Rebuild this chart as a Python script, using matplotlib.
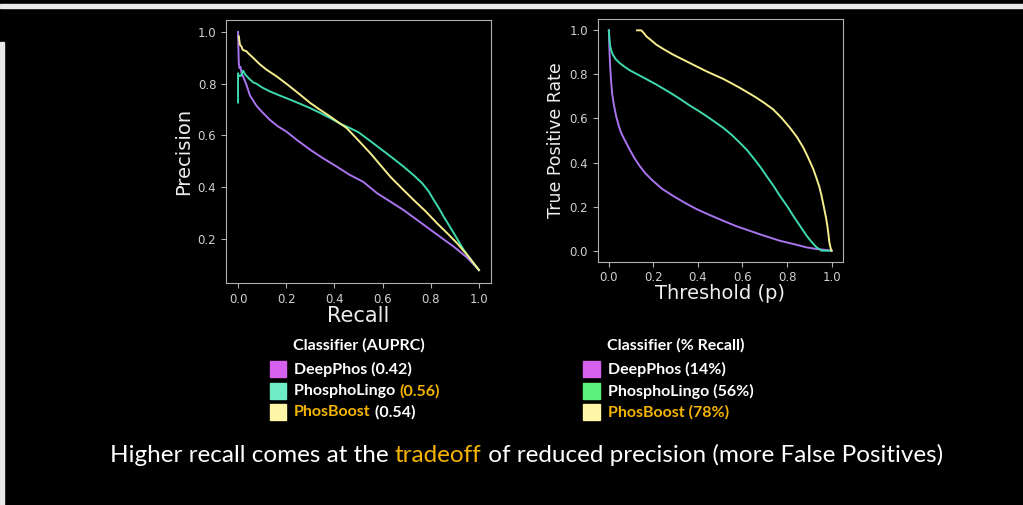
import matplotlib
matplotlib.use("Agg")
import matplotlib.pyplot as plt
from matplotlib.patches import Rectangle

# precision-recall curves (recall, precision)
pr_deep_recall = [0.0, 0.003, 0.006, 0.01, 0.015, 0.02, 0.035, 0.049, 0.076, 0.10, 0.132, 0.165, 0.20, 0.25, 0.30, 0.35, 0.41, 0.46, 0.52, 0.576, 0.63, 0.687, 0.74, 0.80, 0.85, 0.896, 0.95, 1.0]
pr_deep_prec = [1.0, 0.88, 0.86, 0.865, 0.84, 0.83, 0.795, 0.755, 0.715, 0.69, 0.66, 0.635, 0.615, 0.578, 0.544, 0.513, 0.479, 0.449, 0.42, 0.377, 0.345, 0.311, 0.275, 0.234, 0.20, 0.169, 0.128, 0.079]

pr_lingo_recall = [0.0, 0.0, 0.002, 0.004, 0.012, 0.021, 0.03, 0.045, 0.0625, 0.076, 0.10, 0.132, 0.165, 0.20, 0.25, 0.30, 0.34, 0.382, 0.42, 0.451, 0.50, 0.549, 0.597, 0.645, 0.687, 0.73, 0.764, 0.79, 0.8125, 0.834, 0.854, 0.875, 0.896, 0.917, 0.9375, 0.97, 1.0]
pr_lingo_prec = [0.727, 0.84, 0.83, 0.83, 0.83, 0.85, 0.835, 0.82, 0.805, 0.80, 0.785, 0.77, 0.757, 0.744, 0.725, 0.705, 0.687, 0.667, 0.647, 0.634, 0.612, 0.578, 0.544, 0.51, 0.479, 0.445, 0.415, 0.385, 0.35, 0.318, 0.285, 0.253, 0.221, 0.188, 0.156, 0.115, 0.079]

pr_boost_recall = [0.003, 0.008, 0.014, 0.02, 0.035, 0.045, 0.0625, 0.09, 0.118, 0.16, 0.20, 0.25, 0.30, 0.34, 0.382, 0.42, 0.451, 0.50, 0.549, 0.59, 0.632, 0.68, 0.729, 0.78, 0.826, 0.87, 0.91, 0.955, 1.0]
pr_boost_prec = [0.983, 0.95, 0.944, 0.93, 0.925, 0.915, 0.90, 0.875, 0.854, 0.828, 0.80, 0.763, 0.725, 0.699, 0.673, 0.648, 0.628, 0.58, 0.531, 0.486, 0.44, 0.395, 0.35, 0.305, 0.26, 0.22, 0.182, 0.133, 0.079]

# true positive rate vs threshold
tpr_deep_thr = [0.0, 0.002, 0.006, 0.01, 0.015, 0.022, 0.033, 0.045, 0.055, 0.075, 0.093, 0.115, 0.138, 0.165, 0.198, 0.24, 0.288, 0.34, 0.393, 0.45, 0.513, 0.57, 0.633, 0.70, 0.768, 0.83, 0.888, 0.93, 0.977, 1.0]
tpr_deep_val = [1.0, 0.93, 0.834, 0.77, 0.713, 0.665, 0.61, 0.565, 0.535, 0.495, 0.46, 0.42, 0.385, 0.35, 0.317, 0.28, 0.249, 0.218, 0.189, 0.163, 0.136, 0.112, 0.09, 0.067, 0.045, 0.03, 0.015, 0.008, 0.003, 0.0]

tpr_lingo_thr = [0.0, 0.003, 0.006, 0.012, 0.018, 0.03, 0.048, 0.07, 0.093, 0.138, 0.175, 0.213, 0.25, 0.288, 0.325, 0.363, 0.40, 0.438, 0.475, 0.513, 0.55, 0.588, 0.62, 0.648, 0.68, 0.708, 0.74, 0.768, 0.80, 0.828, 0.86, 0.888, 0.91, 0.933, 0.955, 1.0]
tpr_lingo_val = [1.0, 0.96, 0.928, 0.905, 0.89, 0.87, 0.852, 0.835, 0.819, 0.795, 0.775, 0.754, 0.732, 0.709, 0.685, 0.659, 0.636, 0.611, 0.585, 0.558, 0.527, 0.49, 0.457, 0.422, 0.38, 0.339, 0.293, 0.249, 0.203, 0.158, 0.11, 0.068, 0.04, 0.015, 0.0, 0.0]

tpr_boost_thr = [0.127, 0.145, 0.155, 0.168, 0.19, 0.213, 0.25, 0.288, 0.325, 0.363, 0.40, 0.438, 0.475, 0.513, 0.55, 0.588, 0.625, 0.663, 0.70, 0.738, 0.775, 0.813, 0.845, 0.873, 0.895, 0.918, 0.932, 0.945, 0.955, 0.965, 0.975, 0.981, 0.986, 0.99, 0.995, 1.0]
tpr_boost_val = [1.0, 1.0, 0.99, 0.973, 0.955, 0.935, 0.912, 0.89, 0.871, 0.852, 0.833, 0.814, 0.797, 0.78, 0.76, 0.739, 0.717, 0.694, 0.669, 0.641, 0.603, 0.558, 0.515, 0.468, 0.422, 0.37, 0.33, 0.29, 0.249, 0.2, 0.15, 0.113, 0.075, 0.038, 0.015, 0.0]

auprc_labels = [["DeepPhos (0.42)"], ["PhosphoLingo ", "(0.56)"], ["PhosBoost", " (0.54)"]]
recall_labels = [["DeepPhos (14%)"], ["PhosphoLingo (56%)"], ["PhosBoost (78%)"]]

PURPLE = "#a974ee"
TEAL = "#3fd9b0"
YELLOW = "#f5ee8c"
ORANGE = "#f5b400"
W = 1023
H = 505

plt.rcParams["font.family"] = ["DejaVu Sans"]
fig = plt.figure(figsize=(W / 100, H / 100), dpi=100, facecolor="black")


def style_ax(ax):
    ax.set_facecolor("black")
    for s in ax.spines.values():
        s.set_color("#b0b0b0")
    ax.tick_params(colors="#b0b0b0", labelcolor="#d0d0d0", labelsize=8.5, length=3.5)


# left: precision-recall
ax1 = fig.add_axes([226 / W, 1 - 283 / H, 265 / W, 263 / H])
style_ax(ax1)
ax1.plot(pr_deep_recall, pr_deep_prec, color=PURPLE, lw=1.4)
ax1.plot(pr_lingo_recall, pr_lingo_prec, color=TEAL, lw=1.4)
ax1.plot(pr_boost_recall, pr_boost_prec, color=YELLOW, lw=1.4)
ax1.set_xlim(-0.05, 1.05)
ax1.set_ylim(0.029, 1.046)
ax1.set_xticks([0, 0.2, 0.4, 0.6, 0.8, 1.0])
ax1.set_yticks([0.2, 0.4, 0.6, 0.8, 1.0])
ax1.set_xlabel("Recall", color="#eeeeee", fontsize=15, labelpad=0)
ax1.set_ylabel("Precision", color="#eeeeee", fontsize=14, labelpad=3)

# right: TPR vs threshold
ax2 = fig.add_axes([597.7 / W, 1 - 261.7 / H, 245 / W, 242.4 / H])
style_ax(ax2)
ax2.plot(tpr_deep_thr, tpr_deep_val, color=PURPLE, lw=1.4)
ax2.plot(tpr_lingo_thr, tpr_lingo_val, color=TEAL, lw=1.4)
ax2.plot(tpr_boost_thr, tpr_boost_val, color=YELLOW, lw=1.4)
ax2.set_xlim(-0.05, 1.05)
ax2.set_ylim(-0.05, 1.05)
ax2.set_xticks([0, 0.2, 0.4, 0.6, 0.8, 1.0])
ax2.set_yticks([0, 0.2, 0.4, 0.6, 0.8, 1.0])
ax2.set_xlabel("Threshold (p)", color="#eeeeee", fontsize=14, labelpad=0)
ax2.set_ylabel("True Positive Rate", color="#eeeeee", fontsize=12.5, labelpad=3)

fig.canvas.draw()
renderer = fig.canvas.get_renderer()


def runs(x_px, y_px, parts, colors, **kw):
    # draw consecutive text pieces with different colours
    x = x_px
    for txt, col in zip(parts, colors):
        t = fig.text(x / W, 1 - y_px / H, txt, color=col, va="center", ha="left", **kw)
        bb = t.get_window_extent(renderer)
        x += bb.width


leg_font = dict(family=["Lato", "DejaVu Sans"], fontweight="bold", fontsize=11.5)
rows_y = [369, 391, 412]

# left legend
runs(293, 345, ["Classifier (AUPRC)"], ["white"], **leg_font)
sq_left = ["#d660ee", "#6eecc4", "#fff5a6"]
col_left = [["white"], ["white", ORANGE], [ORANGE, "white"]]
for y, parts, cols, c in zip(rows_y, auprc_labels, col_left, sq_left):
    fig.add_artist(Rectangle((270 / W, 1 - (y + 8) / H), 16 / W, 16 / H, color=c, transform=fig.transFigure))
    runs(294, y, parts, cols, **leg_font)

# right legend
runs(607, 345, ["Classifier (% Recall)"], ["white"], **leg_font)
sq_right = ["#d660ee", "#5ef07c", "#fff5a6"]
col_right = [["white"], ["white"], [ORANGE]]
for y, parts, cols, c in zip(rows_y, recall_labels, col_right, sq_right):
    fig.add_artist(Rectangle((583 / W, 1 - (y + 8) / H), 17 / W, 16 / H, color=c, transform=fig.transFigure))
    runs(608, y, parts, cols, **leg_font)

# footer
runs(110, 455, ["Higher recall comes at the ", "tradeoff", " of reduced precision (more False Positives)"],
     ["white", ORANGE, "white"], family=["Lato", "DejaVu Sans"], fontsize=17.5)

# slide frame bits
fig.add_artist(Rectangle((0, 1 - 7.5 / H), 1, 3 / H, color="#e8e8e8", transform=fig.transFigure))
fig.add_artist(Rectangle((0, 0), 4 / W, 1 - 42 / H, color="#e8e8e8", transform=fig.transFigure))

fig.savefig("out.png", dpi=100, facecolor="black")
